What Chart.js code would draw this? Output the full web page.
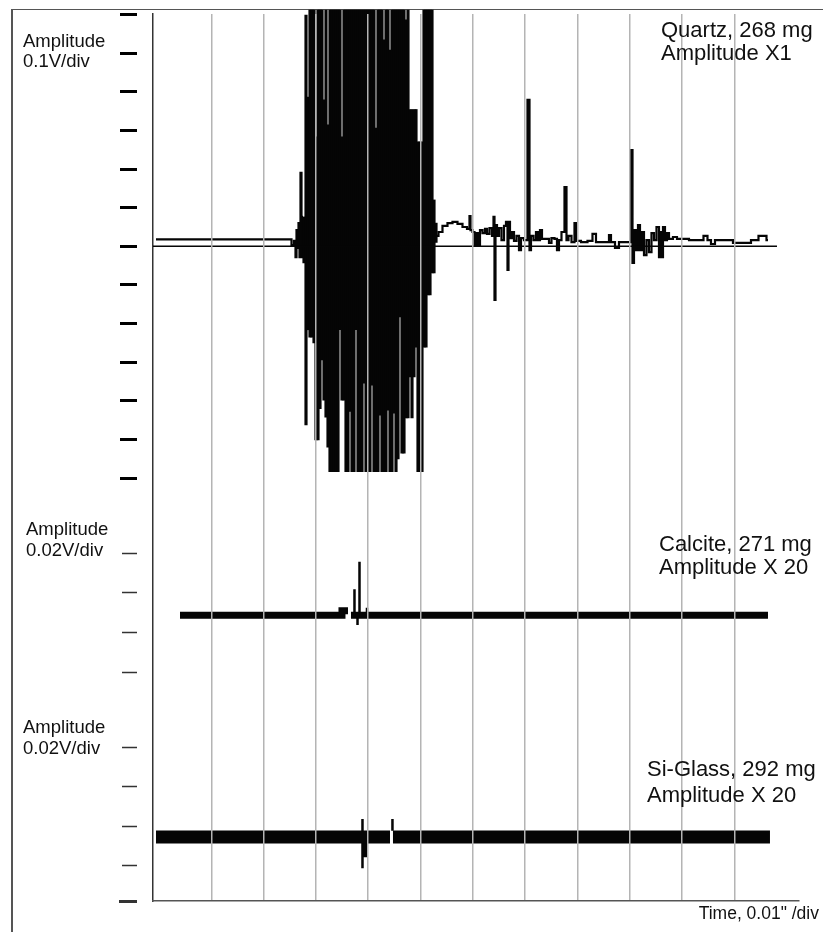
<!DOCTYPE html>
<html><head><meta charset="utf-8">
<script src="https://cdn.jsdelivr.net/npm/chart.js@4.4.1/dist/chart.umd.min.js"></script>
<style>
html,body{margin:0;padding:0;background:#fff;}
#wrap{position:relative;width:823px;height:932px;overflow:hidden;background:#fff;}
#c{position:absolute;left:0;top:0;}
.fl{position:absolute;background:#555;}
.lbl{position:absolute;white-space:nowrap;font-family:"Liberation Sans",Arial,sans-serif;color:#111;line-height:1;}
.r{font-size:22px;}
.l{font-size:18.5px;}
</style></head>
<body><div id="wrap">
<div class="fl" style="left:11px;top:8.5px;width:812px;height:1.5px"></div>
<div class="fl" style="left:11px;top:8.5px;width:1.5px;height:924px"></div>
<canvas id="c" width="823" height="932"></canvas>
<div class="lbl l" style="left:23px;top:31.6px">Amplitude</div>
<div class="lbl l" style="left:23px;top:52px">0.1V/div</div>
<div class="lbl l" style="left:26px;top:520px">Amplitude</div>
<div class="lbl l" style="left:26px;top:541px">0.02V/div</div>
<div class="lbl l" style="left:23px;top:717.6px">Amplitude</div>
<div class="lbl l" style="left:23px;top:739.3px">0.02V/div</div>
<div class="lbl r" style="left:661px;top:18.7px">Quartz, 268 mg</div>
<div class="lbl r" style="left:661px;top:42.4px">Amplitude X1</div>
<div class="lbl r" style="left:659px;top:533.1px">Calcite, 271 mg</div>
<div class="lbl r" style="left:659px;top:556.4px">Amplitude X 20</div>
<div class="lbl r" style="left:647px;top:758.4px">Si-Glass, 292 mg</div>
<div class="lbl r" style="left:647px;top:784.1px">Amplitude X 20</div>
<div class="lbl" style="right:4px;top:905.2px;font-size:17.5px">Time, 0.01" /div</div>
</div>
<script>
// ---- time axis (ms, 10 ms per division) ----
const gridTimes = [10, 20, 30, 40, 50, 60, 70, 80, 90, 100, 110];
const timeRange = [-1.147, 122.35];

// ---- amplitude tick values ----
const quartzTicks = [-0.6, -0.5, -0.4, -0.3, -0.2, -0.1, 0, 0.1, 0.2, 0.3, 0.4, 0.5, 0.6];
const quartzRange = [-1.69392, 0.601035];
const calciteTicks = [-0.03, -0.01, 0.01, 0.03];
const calciteRange = [-0.145264, 0.301587];
const glassTicks = [-0.048, -0.03, -0.01, 0.01, 0.03];
const glassRange = [-0.048, 0.40150];

// ---- Quartz, 268 mg (V) ----
const quartzZeroTime = [-1.147, 118.142];
const quartzZeroAmp = [0, 0];
// trace before and after the burst (null = gap where the burst envelope is drawn)
const quartzTime = [
  -0.574, 25.043, 25.617, 25.999, 26.190, 26.381, 26.572, 26.763, 26.955, 27.146, 27.337, 27.528,
  40.0,
  53.145, 53.718, 54.673, 55.629, 56.585, 57.541, 58.497, 59.262, 59.453, 59.644,
  60.217, 60.409, 60.791, 61.173, 61.556, 62.129, 62.512, 62.894, 63.468, 63.850,
  64.041, 64.232, 64.424, 64.806, 65.188, 65.762, 66.144, 66.527, 66.718, 66.909,
  67.291, 67.674, 68.056, 68.630, 69.012, 69.394, 70.159, 70.732, 70.923, 71.306,
  71.879, 72.262, 72.644, 73.026, 73.409, 74.365, 74.747, 75.320, 75.894, 76.276,
  76.658, 77.232, 77.805, 77.997, 78.570, 79.144, 79.717, 79.908, 81.438, 82.393,
  83.349, 83.732, 85.834, 86.217, 86.599, 87.746, 88.128, 90.040, 90.422, 90.614,
  90.996, 91.378, 91.761, 92.143, 92.525, 92.908, 93.481, 93.864, 94.437, 94.819,
  95.393, 95.775, 95.966, 96.158, 96.540, 96.922, 97.305, 97.687, 98.834, 99.216,
  103.422, 104.760, 104.951, 106.098, 106.481, 112.980, 113.363, 115.848, 116.421
];
const quartzAmp = [
  0.018, 0.018, 0.003, 0.014, -0.028, 0.042, -0.004, 0.060, -0.028, 0.190, -0.028, 0.076,
  null,
  0.027, 0.037, 0.053, 0.060, 0.063, 0.058, 0.050, 0.045, 0.078, 0.042,
  0.037, 0.003, 0.034, 0.003, 0.042, 0.034, 0.045, 0.032, 0.047, 0.027,
  0.076, -0.139, 0.055, 0.027, 0.047, 0.016, 0.053, 0.063, -0.061, 0.063,
  0.021, 0.037, 0.014, 0.027, -0.010, 0.021, 0.016, 0.379, -0.010, 0.027,
  0.016, 0.037, 0.016, 0.042, 0.019, 0.019, 0.009, 0.021, 0.019, -0.010,
  0.016, 0.037, 0.153, 0.016, 0.027, 0.011, 0.060, 0.014, 0.011, 0.014,
  0.032, 0.011, 0.011, 0.029, 0.011, -0.004, 0.011, 0.011, 0.249, -0.043,
  0.042, -0.010, 0.055, -0.010, 0.037, -0.023, 0.016, -0.015, 0.034, 0.016,
  0.050, -0.028, 0.037, -0.028, 0.050, 0.016, 0.034, 0.019, 0.024, 0.019,
  0.016, 0.027, 0.016, 0.006, 0.016, 0.009, 0.016, 0.027, 0.016
];
// burst envelope: lowest and highest excursion of each screen column (clipped by the scope)
const burstTime = [
  27.719, 28.102, 28.484, 28.866, 29.249, 29.631, 30.013, 30.396, 30.778, 31.160, 31.543, 31.925, 32.307,
  32.690, 33.072, 33.455, 33.837, 34.219,
  34.602, 34.984, 35.366, 35.749, 36.131, 36.513, 36.896, 37.278, 37.660, 38.043,
  38.425, 38.807, 39.190, 39.572, 39.954, 40.337, 40.719, 41.101, 41.484, 41.866,
  42.248, 42.631, 43.013, 43.395, 43.778, 44.160, 44.542, 44.925, 45.307, 45.689,
  46.072, 46.454, 46.836, 47.219, 47.601, 47.983, 48.366, 48.748, 49.130, 49.513,
  49.895, 50.277, 50.660, 51.042, 51.424, 51.807, 52.189, 52.571, 52.954
];
const burstLow = [
  -0.043, -0.462, -0.216, -0.235, -0.235, -0.250, -0.501, -0.501, -0.420, -0.294, -0.398, -0.442, -0.520,
  -0.583, -0.583, -0.583, -0.583, -0.583,
  -0.216, -0.398, -0.398, -0.583, -0.583, -0.427, -0.583, -0.583, -0.216, -0.583,
  -0.583, -0.583, -0.354, -0.583, -0.583, -0.583, -0.359, -0.583, -0.583, -0.583,
  -0.437, -0.583, -0.583, -0.583, -0.424, -0.583, -0.583, -0.432, -0.583, -0.550,
  -0.183, -0.535, -0.535, -0.444, -0.444, -0.338, -0.444, -0.338, -0.261, -0.583,
  -0.583, -0.583, -0.261, -0.261, -0.126, -0.126, -0.069, -0.069, 0.010
];
const burstHigh = [
  0.076, 0.598, 0.386, 0.611, 0.611, 0.611, 0.283, 0.611, 0.611, 0.611, 0.379, 0.611, 0.314,
  0.611, 0.611, 0.611, 0.611, 0.611,
  0.611, 0.283, 0.611, 0.611, 0.611, 0.611, 0.611, 0.611, 0.611, 0.611,
  0.611, 0.611, 0.611, 0.611, 0.611, 0.611, 0.611, 0.611, 0.306, 0.611,
  0.611, 0.611, 0.534, 0.611, 0.611, 0.508, 0.611, 0.611, 0.611, 0.611,
  0.611, 0.611, 0.611, 0.586, 0.611, 0.354, 0.354, 0.354, 0.354, 0.270,
  0.270, 0.270, 0.611, 0.611, 0.611, 0.611, 0.611, 0.120, 0.060
];

// ---- Calcite, 271 mg (V) ----
const calciteBandTime = [4.015, 34.98, 34.98, 36.13, 36.40, 36.70, 116.42];
const calciteBandAmp  = [-0.0013, -0.0013, 0.0009, 0.0009, null, -0.0013, -0.0013];
const calciteSpikeTime = [36.9, 37.37, 37.37, 37.37, 37.95, 37.95, 37.95, 38.33, 38.33, 38.33, 39.76, 39.76, 39.76, 40.2];
const calciteSpikeAmp  = [-0.0013, -0.0013, 0.0118, -0.0013, -0.0013, -0.0062, -0.0013, -0.0013, 0.0257, -0.0013, -0.0013, 0.0025, -0.0013, -0.0013];

// ---- Si-Glass, 292 mg (V) ----
const glassBandTime = [-0.574, 44.16, 44.40, 44.73, 116.80];
const glassBandAmp  = [-0.0156, -0.0156, null, -0.0156, -0.0156];
const glassSpikeTime = [38.90, 38.90, 38.90, 39.25, 39.25, 39.57, 39.57, 42.0, 44.63, 44.63];
const glassSpikeAmp  = [-0.0064, -0.0314, -0.0186, -0.0186, -0.0252, -0.0252, -0.0186, null, -0.0124, -0.0064];

function pts(ts, vs) {
  if (ts.length !== vs.length) console.error('length mismatch', ts.length, vs.length);
  return ts.map((t, i) => ({ x: t, y: vs[i] }));
}
function ranges(ts, lo, hi) {
  if (ts.length !== lo.length || ts.length !== hi.length) console.error('length mismatch', ts.length, lo.length, hi.length);
  return ts.map((t, i) => ({ x: t, y: [lo[i], hi[i]] }));
}
function fixedTicks(list) { return s => { s.ticks = list.map(v => ({ value: v })); }; }

const black = '#050505';
const topClip = { left: 0, top: 6, right: 0, bottom: 0 };
new Chart(document.getElementById('c'), {
  type: 'line',
  data: {
    datasets: [
      { label: 'zero', data: pts(quartzZeroTime, quartzZeroAmp), yAxisID: 'yQ', borderColor: black, borderWidth: 1.5 },
      { type: 'bar', label: 'Quartz burst', data: ranges(burstTime, burstLow, burstHigh), yAxisID: 'yQ',
        backgroundColor: black, borderWidth: 0, barThickness: 2.5, clip: topClip },
      { label: 'Quartz, 268 mg', data: pts(quartzTime, quartzAmp), yAxisID: 'yQ', borderColor: black, borderWidth: 2.2,
        stepped: 'middle', spanGaps: false, clip: topClip },
      { label: 'Calcite band', data: pts(calciteBandTime, calciteBandAmp), yAxisID: 'yC', borderColor: black, borderWidth: 7, spanGaps: false, borderJoinStyle: 'miter' },
      { label: 'Calcite, 271 mg', data: pts(calciteSpikeTime, calciteSpikeAmp), yAxisID: 'yC', borderColor: black, borderWidth: 2.5 },
      { label: 'Si-Glass band', data: pts(glassBandTime, glassBandAmp), yAxisID: 'yS', borderColor: black, borderWidth: 13, spanGaps: false },
      { label: 'Si-Glass, 292 mg', data: pts(glassSpikeTime, glassSpikeAmp), yAxisID: 'yS', borderColor: black, borderWidth: 2.5, spanGaps: false }
    ]
  },
  options: {
    responsive: false,
    animation: false,
    layout: { padding: { left: 153, right: 24, top: 14, bottom: 0 } },
    elements: { point: { radius: 0, hoverRadius: 0 }, line: { tension: 0, fill: false } },
    plugins: { legend: { display: false }, tooltip: { enabled: false }, title: { display: false } },
    events: [],
    scales: {
      x: {
        type: 'linear', position: 'bottom', min: timeRange[0], max: timeRange[1], offset: false,
        afterBuildTicks: fixedTicks(gridTimes),
        afterFit: s => { s.height = 31; },
        ticks: { display: false, autoSkip: false },
        grid: { color: '#b4b4b4', lineWidth: 1.5, drawTicks: false, offset: false, z: 1 },
        border: { display: true, color: '#555', width: 1.5, z: 1 }
      },
      yQ: {
        type: 'linear', position: 'left', min: quartzRange[0], max: quartzRange[1],
        afterBuildTicks: fixedTicks(quartzTicks),
        afterFit: s => { s.width = 0; },
        ticks: { display: false, autoSkip: false },
        grid: { drawOnChartArea: false, drawTicks: true, tickLength: 33, tickWidth: 3, tickColor: '#000', tickBorderDash: [17, 100] },
        border: { display: true, color: '#333', width: 1.5 }
      },
      yC: {
        type: 'linear', position: 'left', min: calciteRange[0], max: calciteRange[1],
        afterBuildTicks: fixedTicks(calciteTicks),
        afterFit: s => { s.width = 0; },
        ticks: { display: false, autoSkip: false },
        grid: { drawOnChartArea: false, drawTicks: true, tickLength: 31, tickWidth: 1.5, tickColor: '#333', tickBorderDash: [15, 100] },
        border: { display: false }
      },
      yS: {
        type: 'linear', position: 'left', min: glassRange[0], max: glassRange[1],
        afterBuildTicks: fixedTicks(glassTicks),
        afterFit: s => { s.width = 0; },
        ticks: { display: false, autoSkip: false },
        grid: { drawOnChartArea: false, drawTicks: true, tickLength: 34, tickColor: '#333',
          tickWidth: c => (c.tick && c.tick.value === glassRange[0]) ? 3 : 1.5,
          tickBorderDash: c => (c.tick && c.tick.value === glassRange[0]) ? [18, 100] : [0, 3, 15, 100] },
        border: { display: false }
      }
    }
  }
});
</script>
</body></html>
